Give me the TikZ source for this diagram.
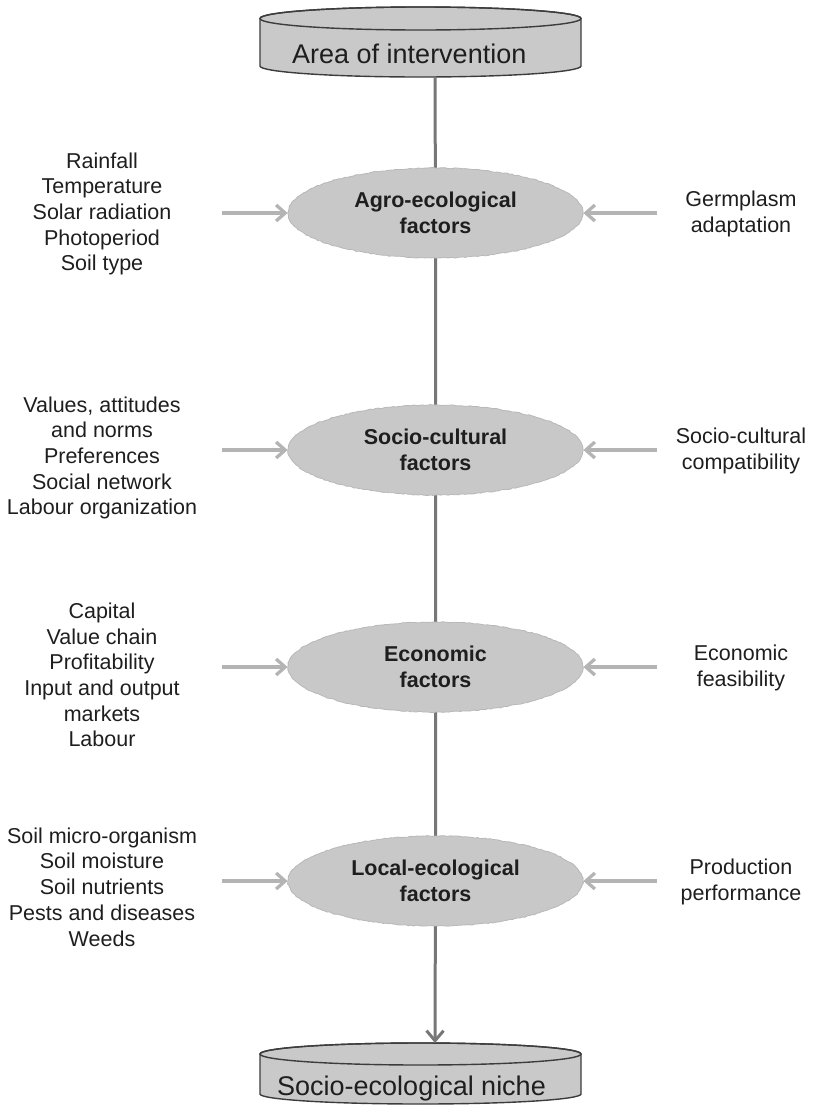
\documentclass[tikz,border=0pt]{standalone}
\usepackage{fontspec}
\setmainfont{Liberation Sans}
\usetikzlibrary{shapes.geometric,arrows.meta,decorations.pathmorphing}
\definecolor{boxfill}{HTML}{C9C9C9}
\definecolor{boxline}{HTML}{3C3C3C}
\definecolor{ellfill}{HTML}{C8C8C8}
\definecolor{elledge}{HTML}{B8B8B8}
\definecolor{mainline}{HTML}{777777}
\definecolor{sideline}{HTML}{B4B4B4}
\definecolor{txt}{HTML}{1E1E1E}
\begin{document}
\begin{tikzpicture}[x=1pt,y=1pt,
  fac/.style={ellipse, fill=ellfill, draw=elledge, line width=0.8pt,
    minimum width=295pt, minimum height=90pt, inner sep=0pt, align=center,
    text=txt, font=\fontsize{21.5}{26.5}\selectfont\bfseries,
    decorate, decoration={random steps,segment length=2.5pt,amplitude=0.5pt}},
  lbl/.style={align=center, text=txt, inner sep=0pt, font=\fontsize{21.5}{25.7}\selectfont},
  bigt/.style={anchor=base west, inner sep=0pt, text=txt, font=\fontsize{27}{32}\selectfont},
  mainconn/.style={draw=mainline, line width=3pt},
  sidearrow/.style={draw=sideline, line width=3.3pt, -{Straight Barb[length=9pt,width=16pt]}},
  cylbody/.style={fill=boxfill, draw=boxline, line width=1.4pt}
]
\pgfmathsetseed{7}
\useasboundingbox (0,0) rectangle (816,-1106);

% top cylinder
\path[cylbody] (260,-18.5) -- (260,-66) arc[start angle=180,end angle=360,x radius=160.5pt,y radius=11pt] -- (581,-18.5) arc[start angle=0,end angle=180,x radius=160.5pt,y radius=11.5pt] -- cycle;
\draw[boxline, line width=1.4pt] (420.5,-18.5) ellipse[x radius=160.5pt,y radius=11.5pt];
\node[bigt] (area) at (292,-63) {Area of intervention};
\coordinate (areabot) at (435,-77);

% bottom cylinder
\path[cylbody] (260,-1054) -- (260,-1094) arc[start angle=180,end angle=360,x radius=160.5pt,y radius=10pt] -- (581,-1054) arc[start angle=0,end angle=180,x radius=160.5pt,y radius=11pt] -- cycle;
\draw[boxline, line width=1.4pt] (420.5,-1054) ellipse[x radius=160.5pt,y radius=11pt];
\node[bigt] (niche) at (277,-1095) {Socio-ecological niche};
\coordinate (nichetop) at (435,-1043);

% factor ellipses positions
\coordinate (pa) at (435.5,-213);
\coordinate (pb) at (435.5,-450);
\coordinate (pc) at (435.5,-667);
\coordinate (pd) at (435.5,-881);

% main line (behind ellipses)
\draw[mainconn] (areabot) -- (pa) -- (pb) -- (pc) -- (pd);
\draw[mainconn, -{Straight Barb[length=10pt,width=17pt]}] (pd) -- (nichetop);

\node[fac] (agro) at (pa) {Agro-ecological\\factors};
\node[fac] (socio) at (pb) {Socio-cultural\\factors};
\node[fac] (econ) at (pc) {Economic\\factors};
\node[fac] (local) at (pd) {Local-ecological\\factors};

% left labels
\node[lbl] (la) at (102,-214) {Rainfall\\Temperature\\Solar radiation\\Photoperiod\\Soil type};
\node[lbl] (lb) at (102,-458) {Values, attitudes\\and norms\\Preferences\\Social network\\Labour organization};
\node[lbl] (lc) at (102,-675) {Capital\\Value chain\\Profitability\\Input and output\\markets\\Labour};
\node[lbl] (ld) at (102,-887) {Soil micro-organism\\Soil moisture\\Soil nutrients\\Pests and diseases\\Weeds};

% right labels
\node[lbl] (ra) at (741,-214) {Germplasm\\adaptation};
\node[lbl] (rb) at (741,-451) {Socio-cultural\\compatibility};
\node[lbl] (rc) at (741,-668) {Economic\\feasibility};
\node[lbl] (rd) at (741,-882) {Production\\performance};

% arrow start points
\coordinate (sla) at (222,-213);
\coordinate (slb) at (222,-450);
\coordinate (slc) at (222,-667);
\coordinate (sld) at (222,-881);
\coordinate (sra) at (657,-213);
\coordinate (srb) at (657,-450);
\coordinate (src) at (657,-667);
\coordinate (srd) at (657,-881);

\draw[sidearrow] (sla) -- (agro.west);
\draw[sidearrow] (slb) -- (socio.west);
\draw[sidearrow] (slc) -- (econ.west);
\draw[sidearrow] (sld) -- (local.west);
\draw[sidearrow] (sra) -- (agro.east);
\draw[sidearrow] (srb) -- (socio.east);
\draw[sidearrow] (src) -- (econ.east);
\draw[sidearrow] (srd) -- (local.east);
\end{tikzpicture}
\end{document}
